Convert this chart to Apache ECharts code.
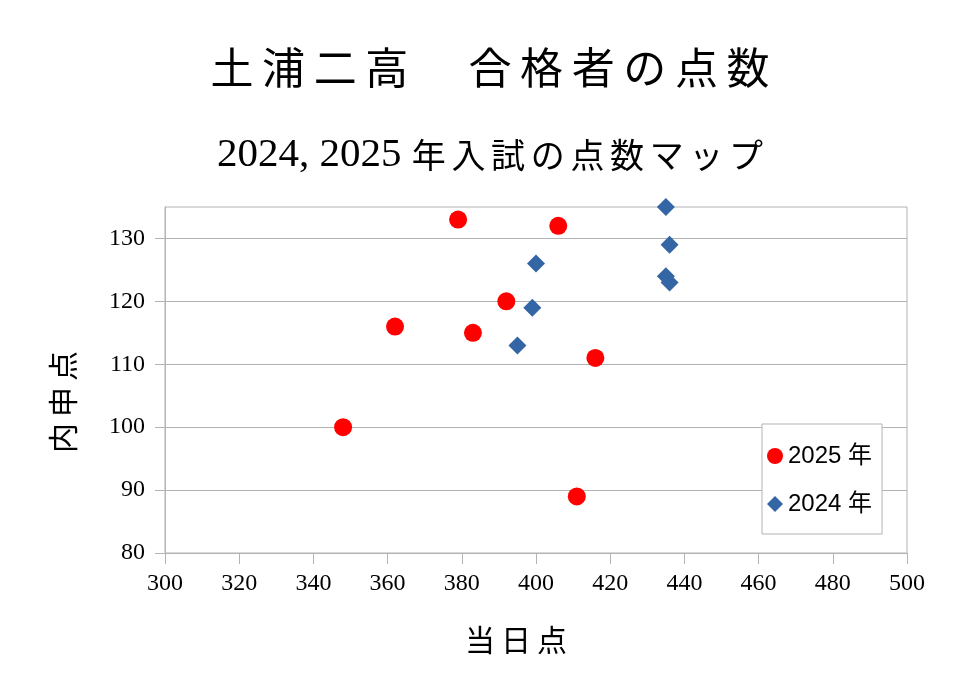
<!DOCTYPE html>
<html>
<head>
<meta charset="utf-8">
<script src="https://cdn.jsdelivr.net/npm/echarts@6/dist/echarts.min.js"></script>
<style>html,body{margin:0;padding:0;background:#fff}#c{width:980px;height:694px}</style>
</head>
<body>
<div id="c"></div>
<script>
// ---- data ----
const titleText = "土浦二高　合格者の点数";
const subtitleNum = "2024, 2025 ";
const subtitleText = "年入試の点数マップ";
const xAxisName = "当日点";
const yAxisName = "内申点";
const seriesNames = ["2025 年", "2024 年"];
// [当日点, 内申点]
const data2025 = [[379,133],[406,132],[392,120],[362,116],[383,115],[416,111],[348,100],[411,89]];
const data2024 = [[435,135],[436,129],[400,126],[399,119],[395,113],[435,124],[436,123]];
const xTicks = [300,320,340,360,380,400,420,440,460,480,500];
const yTicks = [80,90,100,110,120,130];

// spacing helper (thin spaces between CJK characters)
function spaced(s, sp){ return Array.from(s).join(sp); }

const CJK = '"Noto Sans CJK JP"';
const SERIF = '"Liberation Serif", "Noto Sans CJK JP"';

const chart = echarts.init(document.getElementById('c'), null, {renderer:'canvas'});
chart.setOption({
  backgroundColor: '#fff',
  animation: false,
  title: [
    { text: spaced(titleText, '\u2009'), left: 'center', top: 41,
      textStyle: { fontFamily: CJK, fontSize: 43, fontWeight: 'normal', color: '#000' } },
    { text: '{a|' + subtitleNum + '}{b|' + spaced(subtitleText, '\u2006') + '}', left: 'center', top: 130,
      textStyle: { fontWeight: 'normal', rich: {
        a: { fontFamily: SERIF, fontSize: 41, fontWeight: 'normal', color: '#000' },
        b: { fontFamily: CJK, fontSize: 34, fontWeight: 'normal', color: '#000' }
      } } }
  ],
  grid: { left: 165, right: 73, top: 207, bottom: 141, show: true, borderColor: '#b3b3b3', borderWidth: 1, containLabel: false },
  legend: {
    orient: 'vertical', left: 762, top: 424,
    backgroundColor: '#fff', borderColor: '#b3b3b3', borderWidth: 1,
    padding: [20, 10, 18, 5], itemGap: 24, itemWidth: 16, itemHeight: 16,
    textStyle: { fontFamily: '"Liberation Sans", "Noto Sans CJK JP"', fontSize: 24, color: '#000', lineHeight: 24 },
    data: [ { name: seriesNames[0], icon: 'circle' }, { name: seriesNames[1], icon: 'diamond' } ]
  },
  xAxis: {
    type: 'value', min: xTicks[0], max: xTicks[xTicks.length-1], interval: 20,
    name: spaced(xAxisName, '\u2009'), nameLocation: 'middle', nameGap: 72,
    nameTextStyle: { fontFamily: CJK, fontSize: 30, color: '#000', padding: [0, 40, 0, 0] },
    axisLine: { show: true, lineStyle: { color: '#b3b3b3' } },
    axisTick: { show: true, inside: false, length: 11, lineStyle: { color: '#b3b3b3' } },
    axisLabel: { fontFamily: SERIF, fontSize: 24, color: '#000', margin: 19 },
    splitLine: { show: false }
  },
  yAxis: {
    type: 'value', min: 80, max: 135, interval: 10,
    name: spaced(yAxisName, '\u2009'), nameLocation: 'middle', nameRotate: 90, nameGap: 87,
    nameTextStyle: { fontFamily: CJK, fontSize: 30, color: '#000', padding: [0, 44, 0, 0] },
    axisLine: { show: true, lineStyle: { color: '#b3b3b3' } },
    axisTick: { show: true, inside: false, length: 10, customValues: yTicks, lineStyle: { color: '#b3b3b3' } },
    axisLabel: { fontFamily: SERIF, fontSize: 24, color: '#000', margin: 20, customValues: yTicks },
    splitLine: { show: true, lineStyle: { color: '#b3b3b3' } }
  },
  series: [
    { name: seriesNames[0], type: 'scatter', symbol: 'circle', symbolSize: 18, data: data2025,
      itemStyle: { color: '#ff0000', opacity: 1 } },
    { name: seriesNames[1], type: 'scatter', symbol: 'diamond', symbolSize: 18, data: data2024,
      itemStyle: { color: '#3465a4', opacity: 1 } }
  ]
});
</script>
</body>
</html>
